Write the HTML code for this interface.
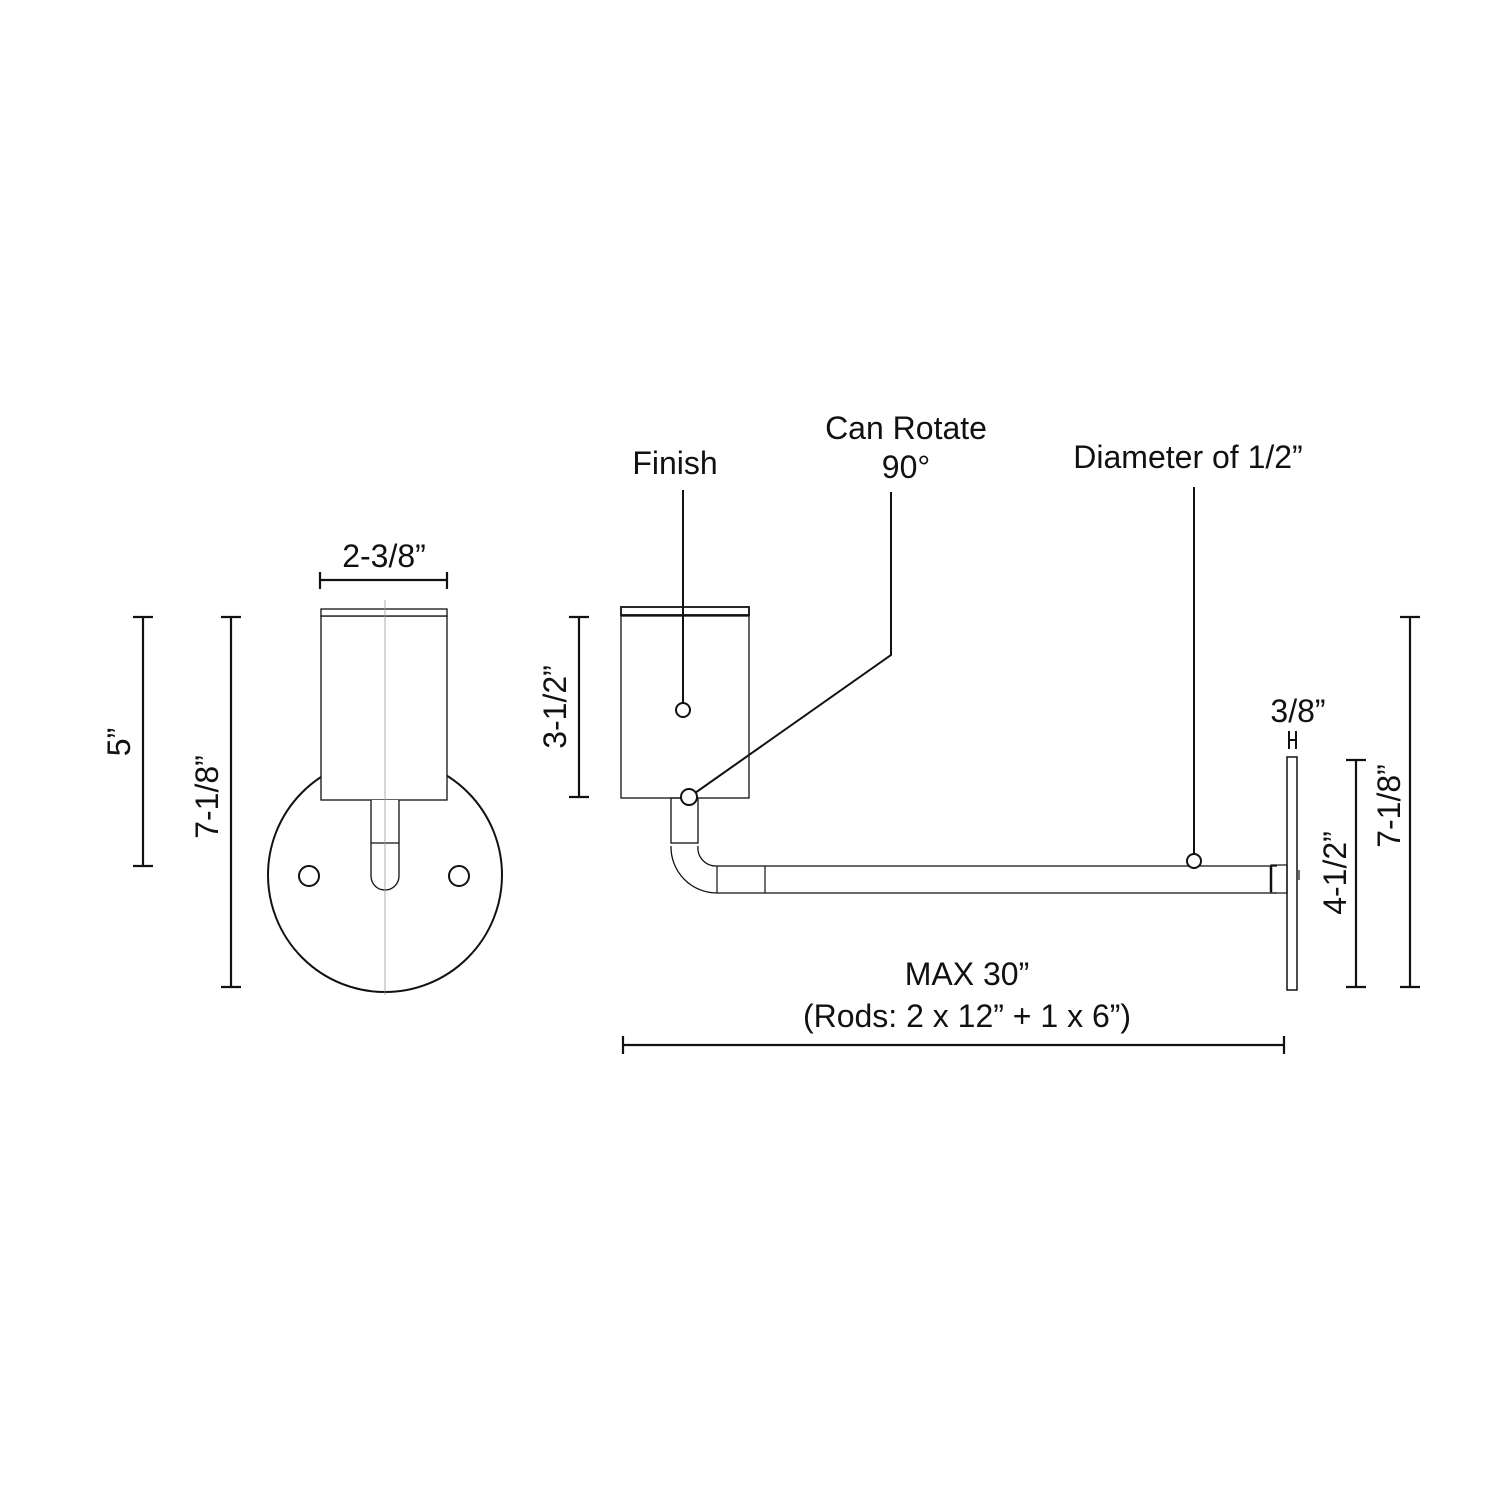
<!DOCTYPE html>
<html><head><meta charset="utf-8"><style>html,body{margin:0;padding:0;background:#fff}svg{display:block}text{font-family:"Liberation Sans",Arial,sans-serif;fill:#111}</style></head>
<body>
<svg width="1500" height="1500" viewBox="0 0 1500 1500" xmlns="http://www.w3.org/2000/svg">
<rect width="1500" height="1500" fill="#fff"/>
<g fill="none" stroke="#111">
<circle cx="385" cy="875" r="117" stroke-width="2"/>
<rect x="321" y="616" width="126" height="184" fill="#fff" stroke-width="1.3"/>
<rect x="321" y="609" width="126" height="7" fill="#fff" stroke-width="1.3"/>
<path d="M371 800 V876 A14 14 0 0 0 399 876 V800" fill="#fff" stroke-width="1.3"/>
<line x1="371" y1="843" x2="399" y2="843" stroke-width="1.2"/>
<line x1="385" y1="600" x2="385" y2="995" stroke="#999" stroke-width="0.8"/>
<circle cx="309" cy="876" r="10" stroke-width="2"/>
<circle cx="459" cy="876" r="10" stroke-width="2"/>
<g stroke-width="2.2">
<path d="M320 580 H447 M320 572 V589 M447 572 V589"/>
<path d="M143 617 V866 M133 617 H153 M133 866 H153"/>
<path d="M231 617 V987 M221 617 H241 M221 987 H241"/>
<path d="M579 617 V797 M569 617 H589 M569 797 H589"/>
<path d="M1356 760 V987 M1346 760 H1366 M1346 987 H1366"/>
<path d="M1410 617 V987 M1400 617 H1420 M1400 987 H1420"/>
<path d="M623 1045 H1284 M623 1036 V1054 M1284 1036 V1054"/>
</g>
<rect x="621" y="616" width="128" height="182" stroke-width="1.3"/>
<rect x="621" y="607" width="128" height="8" stroke-width="1.8"/>
<rect x="671" y="798" width="27" height="45" stroke-width="1.3"/>
<path d="M671 846 A46 46 0 0 0 717 893 H1277 M698 846 A18 18 0 0 0 716 866 H1277" stroke-width="1.3"/>
<path d="M717 866 V893 M765 866 V893" stroke-width="1.2"/>
<rect x="1271" y="865" width="16" height="28" stroke-width="1.2"/>
<line x1="1271" y1="866" x2="1271" y2="892" stroke-width="2.5"/>
<rect x="1287" y="757" width="10" height="233" stroke-width="1.5"/>
<path d="M1299 870 V880" stroke-width="1.2"/>
<path d="M1289 731 V749 M1296 731 V749 M1289 740 H1296" stroke-width="2"/>
<g stroke-width="2">
<path d="M683 490 V703"/>
<circle cx="683" cy="710" r="7" fill="#fff"/>
<path d="M891 492 V655 L695 793"/>
<circle cx="689" cy="797" r="8" fill="#fff"/>
<path d="M1194 487 V854"/>
<circle cx="1194" cy="861" r="7" fill="#fff"/>
</g>
</g>
<g font-size="32" text-anchor="middle">
<text x="384" y="567">2-3/8”</text>
<text x="675" y="474">Finish</text>
<text x="906" y="439">Can Rotate</text>
<text x="906" y="478">90°</text>
<text x="1188" y="468">Diameter of 1/2”</text>
<text x="1298" y="722">3/8”</text>
<text x="967" y="985">MAX 30”</text>
<text x="967" y="1027">(Rods: 2 x 12” + 1 x 6”)</text>
<text transform="translate(130,742) rotate(-90)">5”</text>
<text transform="translate(218,797) rotate(-90)">7-1/8”</text>
<text transform="translate(566,707) rotate(-90)">3-1/2”</text>
<text transform="translate(1346,873) rotate(-90)">4-1/2”</text>
<text transform="translate(1400,806) rotate(-90)">7-1/8”</text>
</g>
</svg>
</body></html>
